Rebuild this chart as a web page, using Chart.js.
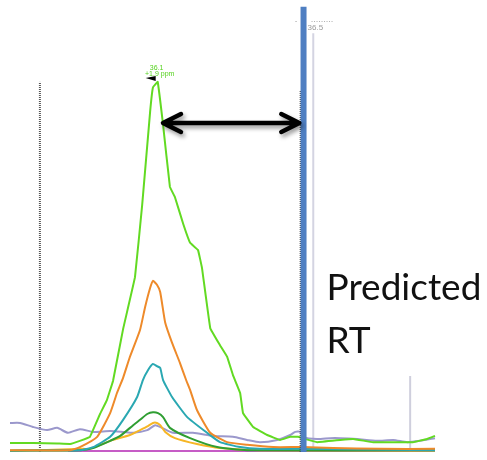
<!DOCTYPE html>
<html>
<head>
<meta charset="utf-8">
<script src="https://cdn.jsdelivr.net/npm/chart.js@4.4.0/dist/chart.umd.min.js"></script>
<style>
    html, body { margin: 0; padding: 0; background: #fff; }
    #wadah { width: 487px; height: 460px; }
</style>
</head>
<body>
<div id="wadah"><canvas id="grafikXic" width="487" height="460"></canvas></div>
<script>
// Waktu retensi (menit) dan intensitas (% dari puncak tertinggi) tiap jejak
const waktuHijau = [35.700, 35.764, 35.831, 35.867, 35.894, 35.922, 35.950, 35.969, 35.986, 36.014, 36.047, 36.067, 36.089, 36.097, 36.110, 36.125, 36.144, 36.158, 36.181, 36.200, 36.222, 36.233, 36.256, 36.283, 36.303, 36.319, 36.339, 36.347, 36.375, 36.414, 36.450, 36.478, 36.500, 36.511, 36.553, 36.617, 36.653, 36.708, 36.775, 36.819, 36.858, 36.880];
const nilaiHijau = [2.0, 2.0, 1.9, 1.8, 2.5, 3.4, 8.5, 11.6, 15.9, 27.5, 39.1, 55.3, 76.1, 81.6, 82.8, 73.2, 59.3, 57.0, 51.0, 46.8, 45.2, 41.2, 27.7, 23.9, 21.3, 17.2, 13.2, 8.7, 5.6, 3.8, 2.7, 3.4, 3.4, 3.1, 2.2, 2.7, 2.9, 2.2, 2.2, 2.2, 2.9, 3.6];

const waktuOranye = [35.700, 35.867, 35.894, 35.942, 35.978, 35.997, 36.014, 36.033, 36.061, 36.075, 36.089, 36.097, 36.108, 36.117, 36.131, 36.150, 36.172, 36.189, 36.200, 36.219, 36.256, 36.303, 36.358, 36.431, 36.511, 36.597, 36.728, 36.880];
const nilaiOranye = [0.4, 0.4, 1.1, 3.4, 8.7, 13.2, 16.6, 21.3, 27.3, 32.4, 36.7, 38.3, 37.4, 35.8, 28.9, 24.4, 19.9, 16.1, 13.9, 9.4, 4.3, 2.2, 1.6, 1.1, 1.1, 0.9, 0.7, 0.7];

const waktuToska = [35.700, 35.894, 35.931, 35.978, 36.014, 36.053, 36.069, 36.083, 36.097, 36.108, 36.117, 36.125, 36.150, 36.192, 36.247, 36.283, 36.339, 36.394, 36.506, 36.880];
const nilaiToska = [0.3, 0.4, 1.1, 3.4, 7.2, 12.3, 16.1, 18.3, 19.7, 19.2, 18.8, 16.1, 12.3, 7.8, 4.3, 2.2, 1.1, 0.7, 0.7, 0.4];

const waktuHijauTua = [35.700, 35.894, 35.931, 35.978, 36.006, 36.042, 36.061, 36.081, 36.097, 36.111, 36.125, 36.144, 36.200, 36.275, 36.358, 36.880];
const nilaiHijauTua = [0.3, 0.4, 0.9, 2.5, 3.6, 6.0, 7.2, 8.5, 8.9, 8.7, 7.8, 5.4, 3.1, 1.1, 0.4, 0.4];

const waktuKuning = [35.700, 35.903, 35.922, 35.978, 36.033, 36.061, 36.083, 36.097, 36.108, 36.117, 36.131, 36.158, 36.219, 36.283, 36.394, 36.880];
const nilaiKuning = [0.2, 0.7, 0.7, 2.5, 3.8, 4.9, 5.8, 6.5, 6.5, 6.0, 4.5, 3.1, 1.8, 0.9, 0.4, 0.3];

const waktuUngu = [35.700, 35.728, 35.764, 35.803, 35.831, 35.861, 35.894, 35.931, 35.978, 36.014, 36.042, 36.081, 36.103, 36.122, 36.153, 36.208, 36.264, 36.319, 36.358, 36.394, 36.442, 36.478, 36.492, 36.506, 36.514, 36.553, 36.589, 36.617, 36.664, 36.719, 36.764, 36.803, 36.839, 36.880];
const nilaiUngu = [6.5, 6.5, 5.6, 4.9, 5.4, 4.3, 5.1, 4.5, 4.7, 4.5, 4.3, 4.9, 6.0, 5.4, 4.3, 4.3, 3.6, 3.4, 2.7, 2.2, 2.7, 3.8, 4.5, 4.5, 3.4, 2.9, 3.1, 3.1, 2.9, 2.5, 2.7, 2.2, 2.5, 3.1];

const waktuMagenta = [35.861, 36.000, 36.200, 36.880];
const nilaiMagenta = [0.2, 0.2, 0.2, 0.2];

// Penanda vertikal: waktu dan tinggi garis
const waktuPenanda = [35.783, 36.506, 36.515, 36.542, 36.811];
const tinggiPenanda = [82.8, 81.0, 99.6, 93.7, 17.0];

// Label
const rtPuncak = 36.110;
const rtPrediksi = 36.515;
const labelPuncak = ['36.1', '+1.9 ppm'];
const labelPrediksi = '36.5';
const teksPrediksi = ['Predicted', 'RT'];
const posisiPanah = [36.122, 36.506, 73.6];

function gabung(waktu, nilai) {
    return waktu.map((t, i) => ({ x: t, y: nilai[i] }));
}

function garisTegak(idx) {
    return [{ x: waktuPenanda[idx], y: 0 }, { x: waktuPenanda[idx], y: tinggiPenanda[idx] }];
}

function jejak(waktu, nilai, warna, urutan, lengkung) {
    return {
        data: gabung(waktu, nilai),
        borderColor: warna,
        borderWidth: 2,
        tension: lengkung,
        pointRadius: 0,
        clip: 6,
        order: urutan
    };
}

function penanda(idx, warna, lebar, putus, urutan) {
    return {
        data: garisTegak(idx),
        borderColor: warna,
        borderWidth: lebar,
        borderDash: putus,
        borderCapStyle: 'butt',
        pointRadius: 0,
        clip: 6,
        order: urutan
    };
}

// Panah, label puncak dan teks "Predicted RT"
const anotasi = {
    id: 'anotasi',
    afterDatasetsDraw(chart) {
        const { ctx, scales: { x, y } } = chart;
        ctx.save();

        // Panah dua arah
        const yP = y.getPixelForValue(posisiPanah[2]);
        const x1 = x.getPixelForValue(posisiPanah[0]);
        const x2 = x.getPixelForValue(posisiPanah[1]);
        ctx.shadowColor = 'rgba(0,0,0,0.4)';
        ctx.shadowBlur = 4;
        ctx.shadowOffsetX = 2;
        ctx.shadowOffsetY = 3;
        ctx.strokeStyle = '#000';
        ctx.lineWidth = 4.5;
        ctx.lineCap = 'round';
        ctx.lineJoin = 'round';
        ctx.beginPath();
        ctx.moveTo(x1 + 2, yP);
        ctx.lineTo(x2 - 2, yP);
        ctx.moveTo(x1 + 19, yP - 9);
        ctx.lineTo(x1 + 1, yP);
        ctx.lineTo(x1 + 19, yP + 9);
        ctx.moveTo(x2 - 19, yP - 9);
        ctx.lineTo(x2 - 1, yP);
        ctx.lineTo(x2 - 19, yP + 9);
        ctx.stroke();
        ctx.restore();

        // Label puncak
        ctx.save();
        const px = x.getPixelForValue(rtPuncak);
        const py = y.getPixelForValue(Math.max(...nilaiHijau));
        ctx.fillStyle = '#55d21e';
        ctx.font = '7px "Liberation Sans"';
        ctx.textAlign = 'center';
        ctx.fillText(labelPuncak[0], px - 1, py - 12);
        ctx.fillText(labelPuncak[1], px + 2, py - 6);
        ctx.fillStyle = '#000';
        ctx.beginPath();
        ctx.moveTo(px - 12, py - 4);
        ctx.lineTo(px - 2, py - 6);
        ctx.lineTo(px - 2, py - 1);
        ctx.closePath();
        ctx.fill();

        // Label waktu prediksi di atas garis
        const xr = x.getPixelForValue(rtPrediksi);
        ctx.fillStyle = '#9a9a9a';
        ctx.font = '8px "Liberation Sans"';
        ctx.textAlign = 'left';
        ctx.fillText(labelPrediksi, xr + 4, 30);
        ctx.strokeStyle = '#b0b0b0';
        ctx.lineWidth = 1;
        ctx.setLineDash([1, 1.5]);
        ctx.beginPath();
        ctx.moveTo(xr + 8, 21.5);
        ctx.lineTo(xr + 30, 21.5);
        ctx.stroke();
        ctx.setLineDash([]);
        ctx.fillRect(xr - 8, 21, 1, 1);

        // Teks Predicted RT
        ctx.fillStyle = '#111';
        ctx.font = '37px Lato';
        ctx.fillText(teksPrediksi[0], xr + 23, 300);
        ctx.fillText(teksPrediksi[1], xr + 23, 353);
        ctx.restore();
    }
};

const ctx = document.getElementById('grafikXic').getContext('2d');

new Chart(ctx, {
    type: 'line',
    data: {
        datasets: [
            penanda(2, '#4f7fc2', 6, [], 0),
            penanda(1, '#333', 1.2, [1, 1], 1),
            jejak(waktuHijau, nilaiHijau, '#62da22', 2, 0.05),
            jejak(waktuOranye, nilaiOranye, '#ee8a2a', 3, 0.15),
            jejak(waktuToska, nilaiToska, '#2aa8b2', 4, 0.15),
            jejak(waktuHijauTua, nilaiHijauTua, '#2f9e32', 5, 0.2),
            jejak(waktuKuning, nilaiKuning, '#f6b625', 6, 0.2),
            jejak(waktuUngu, nilaiUngu, '#9b98cc', 7, 0.2),
            jejak(waktuMagenta, nilaiMagenta, '#c65cc6', 8, 0),
            penanda(0, '#555', 2, [1, 1], 9),
            penanda(3, '#d4d4e2', 2, [], 10),
            penanda(4, '#cfcfdd', 2, [], 10)
        ]
    },
    options: {
        responsive: false,
        animation: false,
        devicePixelRatio: 1,
        layout: {
            padding: { left: 10, right: 52, top: 5, bottom: 8 }
        },
        plugins: {
            legend: { display: false },
            tooltip: { enabled: false }
        },
        scales: {
            x: { type: 'linear', min: 35.70, max: 36.88, display: false },
            y: { min: 0, max: 100, display: false }
        }
    },
    plugins: [anotasi]
});
</script>
</body>
</html>
